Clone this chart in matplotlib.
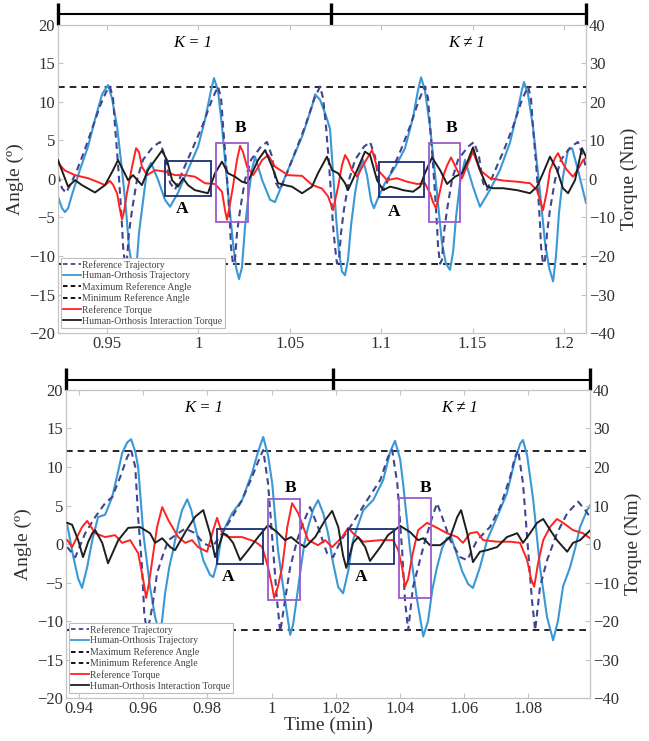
import matplotlib.pyplot as plt
from matplotlib.patches import Rectangle
from matplotlib.lines import Line2D

plt.rcParams['font.family'] = ['Liberation Serif', 'DejaVu Serif']
plt.rcParams['lines.solid_joinstyle'] = 'round'
plt.rcParams['lines.dash_joinstyle'] = 'round'

# ---------------- top panel data (time in min, angle in deg, torque in Nm) ----------------
top_ref_t = [0.9232, 0.9254, 0.9276, 0.9298, 0.9330, 0.9374, 0.9418, 0.9462, 0.9495, 0.9516,
             0.9533, 0.9544, 0.9560, 0.9571, 0.9582, 0.9588, 0.9598, 0.9609, 0.9620, 0.9637,
             0.9664, 0.9697, 0.9752, 0.9790, 0.9817, 0.9845, 0.9872, 0.9910, 0.9965, 1.0020,
             1.0074, 1.0107, 1.0124, 1.0135, 1.0151, 1.0162, 1.0173, 1.0178, 1.0189, 1.0200,
             1.0211, 1.0228, 1.0255, 1.0288, 1.0342, 1.0375, 1.0403, 1.0424, 1.0446, 1.0485,
             1.0534, 1.0583, 1.0632, 1.0665, 1.0682, 1.0698, 1.0714, 1.0725, 1.0736, 1.0747,
             1.0758, 1.0769, 1.0780, 1.0796, 1.0824, 1.0857, 1.0906, 1.0939, 1.0966, 1.0988,
             1.1015, 1.1053, 1.1108, 1.1157, 1.1207, 1.1239, 1.1256, 1.1267, 1.1283, 1.1294,
             1.1305, 1.1311, 1.1322, 1.1332, 1.1343, 1.1360, 1.1387, 1.1420, 1.1475, 1.1507,
             1.1535, 1.1557, 1.1579, 1.1617, 1.1672, 1.1721, 1.1770, 1.1803, 1.1819, 1.1830,
             1.1847, 1.1858, 1.1869, 1.1874, 1.1885, 1.1896, 1.1907, 1.1923, 1.1951, 1.1983,
             1.2038, 1.2076, 1.2104, 1.2120]
top_ref = [0.5, -1.2, -1.8, -0.8, 0.8, 3.5, 6.5, 9.5, 11.3, 12.0,
           10.5, 6.8, 2.0, -1.8, -6.0, -8.8, -11.0, -10.5, -7.0, -4.0,
           -0.1, 2.5, 4.2, 4.8, 2.9, -0.5, -1.4, 0.8, 3.8, 6.8,
           10.3, 12.0, 10.5, 6.8, 2.0, -1.8, -6.0, -8.8, -11.0, -10.5,
           -7.0, -4.0, -0.1, 2.5, 4.2, 4.8, 2.9, -0.5, -1.4, 0.8,
           3.8, 6.8, 10.3, 12.0, 10.5, 6.8, 2.0, -1.8, -6.0, -8.8,
           -11.0, -10.5, -7.0, -4.0, -0.1, 2.5, 4.2, 4.8, 2.9, -0.5,
           -1.4, 0.8, 3.8, 6.8, 10.3, 12.0, 10.5, 6.8, 2.0, -1.8,
           -6.0, -8.8, -11.0, -10.5, -7.0, -4.0, -0.1, 2.5, 4.2, 4.8,
           2.9, -0.5, -1.4, 0.8, 3.8, 6.8, 10.3, 12.0, 10.5, 6.8,
           2.0, -1.8, -6.0, -8.8, -11.0, -10.5, -7.0, -4.0, -0.1, 2.5,
           4.2, 4.8, 2.9, 1.5]

top_hum_t = [0.9232, 0.9254, 0.9270, 0.9287, 0.9309, 0.9352, 0.9396, 0.9434, 0.9473, 0.9505,
             0.9527, 0.9555, 0.9582, 0.9604, 0.9620, 0.9631, 0.9648, 0.9664, 0.9675, 0.9691,
             0.9719, 0.9741, 0.9779, 0.9817, 0.9845, 0.9888, 0.9943, 0.9998, 1.0036, 1.0069,
             1.0085, 1.0107, 1.0129, 1.0162, 1.0189, 1.0206, 1.0222, 1.0238, 1.0255, 1.0277,
             1.0293, 1.0310, 1.0348, 1.0392, 1.0419, 1.0490, 1.0567, 1.0621, 1.0638, 1.0665,
             1.0698, 1.0720, 1.0736, 1.0753, 1.0769, 1.0785, 1.0802, 1.0818, 1.0835, 1.0857,
             1.0878, 1.0900, 1.0922, 1.0944, 1.0960, 1.0982, 1.1021, 1.1075, 1.1130, 1.1174,
             1.1201, 1.1218, 1.1239, 1.1267, 1.1305, 1.1332, 1.1354, 1.1376, 1.1393, 1.1409,
             1.1431, 1.1458, 1.1502, 1.1540, 1.1595, 1.1650, 1.1704, 1.1743, 1.1770, 1.1781,
             1.1803, 1.1830, 1.1869, 1.1896, 1.1918, 1.1940, 1.1956, 1.1972, 1.1994, 1.2022,
             1.2044, 1.2076, 1.2120]
top_hum = [-2.3, -3.8, -4.3, -3.8, -2.0, 1.2, 4.2, 7.7, 11.0, 12.2,
           10.5, 6.8, 1.2, -4.0, -8.8, -10.5, -11.5, -10.5, -7.0, -4.0,
           1.2, 2.1, -0.1, -2.7, -3.6, -1.8, 1.2, 4.2, 7.7, 11.5,
           13.1, 11.5, 6.8, -1.8, -8.3, -11.5, -13.0, -11.5, -6.2, -1.5,
           1.2, 2.9, -0.1, -2.7, -3.0, 1.2, 5.5, 9.4, 11.0, 10.3,
           8.2, 6.5, 1.0, -5.0, -9.5, -12.0, -12.5, -10.5, -6.0, -1.8,
           1.0, 2.5, 0.5, -2.8, -3.8, -2.5, -0.5, 1.5, 4.0, 8.0,
           11.5, 13.2, 11.5, 6.8, -1.8, -8.3, -11.0, -11.8, -9.5, -5.0,
           -0.5, 2.5, -1.0, -3.6, -1.4, 1.2, 4.7, 8.6, 11.6, 12.6,
           11.0, 6.8, -1.8, -8.3, -11.5, -13.3, -10.0, -4.5, 0.3, 3.8,
           4.0, 1.2, -3.1]

top_rtq_t = [0.9232, 0.9270, 0.9325, 0.9396, 0.9451, 0.9489, 0.9516, 0.9533, 0.9555, 0.9571,
             0.9582, 0.9593, 0.9609, 0.9637, 0.9659, 0.9675, 0.9691, 0.9719, 0.9763, 0.9817,
             0.9872, 0.9927, 0.9981, 1.0036, 1.0091, 1.0129, 1.0145, 1.0156, 1.0167, 1.0189,
             1.0211, 1.0228, 1.0244, 1.0266, 1.0299, 1.0326, 1.0348, 1.0381, 1.0419, 1.0490,
             1.0567, 1.0621, 1.0676, 1.0709, 1.0736, 1.0764, 1.0785, 1.0802, 1.0818, 1.0840,
             1.0868, 1.0906, 1.0950, 1.0982, 1.1032, 1.1086, 1.1141, 1.1196, 1.1239, 1.1267,
             1.1283, 1.1300, 1.1322, 1.1338, 1.1360, 1.1382, 1.1415, 1.1442, 1.1475, 1.1502,
             1.1540, 1.1595, 1.1666, 1.1743, 1.1814, 1.1852, 1.1869, 1.1885, 1.1907, 1.1923,
             1.1951, 1.1967, 1.1994, 1.2016, 1.2049, 1.2076, 1.2104, 1.2120]
top_rtq = [4.1, 2.2, 1.0, 0.2, -0.8, -1.6, -0.5, -1.5, -3.7, -8.0,
           -10.5, -8.5, -3.7, 3.2, 8.0, 7.0, 3.2, 1.0, 2.3, 1.9,
           1.0, 1.0, 0.6, -1.1, -1.3, -3.3, -8.0, -10.6, -8.0, -2.0,
           5.0, 8.6, 7.0, 3.2, 1.0, 3.0, 4.9, 6.2, 3.2, 1.0,
           0.8, -1.5, -2.5, -4.5, -8.1, -2.0, 3.5, 6.2, 5.0, 2.3,
           0.6, 4.0, 7.5, 2.3, -0.3, 0.2, -0.7, -1.3, -1.1, -3.7,
           -6.0, -7.6, -3.0, 0.6, 3.5, 5.6, 2.3, 0.2, 4.0, 7.1,
           2.3, 0.2, -0.4, -0.7, -1.1, -2.9, -5.5, -8.1, -3.0, 2.3,
           5.5, 6.7, 4.0, 2.3, 0.6, 2.5, 4.9, 5.5]

top_itq_t = [0.9232, 0.9287, 0.9325, 0.9363, 0.9434, 0.9489, 0.9533, 0.9560, 0.9588, 0.9615,
             0.9642, 0.9691, 0.9724, 0.9763, 0.9801, 0.9828, 0.9856, 0.9888, 0.9916, 0.9943,
             0.9981, 1.0052, 1.0091, 1.0129, 1.0162, 1.0200, 1.0238, 1.0266, 1.0293, 1.0326,
             1.0365, 1.0403, 1.0436, 1.0474, 1.0512, 1.0567, 1.0621, 1.0654, 1.0703, 1.0731,
             1.0764, 1.0802, 1.0818, 1.0868, 1.0911, 1.0939, 1.0977, 1.1010, 1.1048, 1.1086,
             1.1119, 1.1174, 1.1212, 1.1239, 1.1278, 1.1322, 1.1360, 1.1404, 1.1442, 1.1475,
             1.1502, 1.1540, 1.1579, 1.1611, 1.1666, 1.1743, 1.1814, 1.1852, 1.1885, 1.1923,
             1.1962, 1.1994, 1.2022, 1.2060, 1.2098, 1.2120]
top_itq = [4.9, -2.0, -0.3, -1.6, -3.5, -1.6, 2.3, 4.9, 2.3, -0.3,
           1.0, -1.6, 2.3, 4.9, 7.4, 4.9, -0.3, -2.0, 0.2, -1.6,
           -2.9, -3.7, 1.5, 4.5, 1.5, 0.6, -0.7, -1.1, 1.5, 4.9,
           7.5, 3.2, -1.1, -1.6, -2.0, -3.7, -2.0, 1.5, 5.8, 2.3,
           1.5, -1.1, -2.9, 2.3, 7.1, 6.2, -0.3, -2.9, -2.0, -2.4,
           -2.9, -3.3, -2.0, 1.5, 5.6, 2.3, -1.3, 0.6, 1.5, 4.9,
           8.2, 2.3, -2.0, -2.4, -2.4, -2.9, -3.7, -2.0, 1.5, 5.8,
           2.3, -2.4, -3.7, -0.3, 8.0, 5.8]

top_xlim = (0.9232, 1.2120)
top_xticks = [0.95, 1.0, 1.05, 1.1, 1.15, 1.2]
top_split = 1.0725
top_max_ref = 12.0
top_min_ref = -11.0
# boxes: (t0, t1, angle0, angle1)
top_boxes_a = [(0.9817, 1.0069, -2.2, 2.3), (1.0988, 1.1234, -2.3, 2.2)]
top_boxes_b = [(1.0096, 1.0271, -5.6, 4.7), (1.1261, 1.1431, -5.6, 4.7)]
top_labels_a = [(0.9910, -3.9), (1.1070, -4.3)]
top_labels_b = [(1.0233, 6.6), (1.1382, 6.6)]
top_k_labels = [(0.9970, 'K = 1'), (1.1469, 'K \u2260 1')]

# ---------------- bottom panel data ----------------
bot_ref_t = [0.9363, 0.9388, 0.9419, 0.9450, 0.9481, 0.9503, 0.9528, 0.9550, 0.9562, 0.9575,
             0.9584, 0.9596, 0.9603, 0.9612, 0.9628, 0.9643, 0.9659, 0.9678, 0.9709, 0.9731,
             0.9762, 0.9787, 0.9815, 0.9846, 0.9877, 0.9908, 0.9939, 0.9964, 0.9974, 0.9989,
             1.0005, 1.0017, 1.0027, 1.0042, 1.0058, 1.0080, 1.0098, 1.0120, 1.0145, 1.0173,
             1.0192, 1.0214, 1.0245, 1.0298, 1.0339, 1.0363, 1.0376, 1.0392, 1.0407, 1.0416,
             1.0426, 1.0441, 1.0457, 1.0479, 1.0501, 1.0516, 1.0532, 1.0557, 1.0588, 1.0610,
             1.0641, 1.0681, 1.0713, 1.0744, 1.0759, 1.0769, 1.0784, 1.0800, 1.0812, 1.0822,
             1.0837, 1.0859, 1.0890, 1.0922, 1.0956, 1.0978, 1.0993]
bot_ref = [-0.4, -1.7, 1.4, 3.5, 5.3, 6.1, 8.7, 11.3, 12.2, 10.0,
           3.5, -3.0, -9.0, -11.6, -8.2, -3.8, -1.7, 0.5, 1.4, 2.0,
           1.4, 0.1, -0.4, 1.4, 3.5, 5.7, 8.7, 11.3, 12.2, 7.9,
           -0.8, -7.3, -11.4, -7.3, -3.0, 0.5, 2.7, 4.8, 2.2, -1.2,
           -1.7, 0.3, 2.2, 5.7, 8.3, 11.3, 12.2, 7.9, -0.8, -7.3,
           -11.2, -5.6, -3.0, 0.5, 3.5, 5.3, 3.5, 0.5, -1.7, -2.1,
           0.5, 2.2, 4.8, 8.7, 11.3, 12.2, 7.9, -0.8, -7.3, -11.2,
           -5.6, -2.1, 1.4, 4.0, 5.5, 4.4, 3.5]

bot_hum_t = [0.9363, 0.9381, 0.9397, 0.9409, 0.9425, 0.9441, 0.9459, 0.9481, 0.9503, 0.9522,
             0.9534, 0.9550, 0.9562, 0.9575, 0.9584, 0.9600, 0.9621, 0.9637, 0.9653, 0.9668,
             0.9681, 0.9693, 0.9709, 0.9721, 0.9737, 0.9749, 0.9762, 0.9787, 0.9808, 0.9818,
             0.9830, 0.9846, 0.9877, 0.9908, 0.9939, 0.9958, 0.9974, 0.9989, 1.0002, 1.0020,
             1.0042, 1.0058, 1.0067, 1.0077, 1.0089, 1.0102, 1.0114, 1.0130, 1.0145, 1.0161,
             1.0176, 1.0192, 1.0208, 1.0223, 1.0239, 1.0254, 1.0270, 1.0286, 1.0317, 1.0348,
             1.0370, 1.0385, 1.0401, 1.0410, 1.0432, 1.0454, 1.0473, 1.0488, 1.0501, 1.0516,
             1.0532, 1.0547, 1.0560, 1.0575, 1.0594, 1.0613, 1.0628, 1.0650, 1.0672, 1.0703,
             1.0734, 1.0759, 1.0775, 1.0784, 1.0797, 1.0816, 1.0837, 1.0859, 1.0878, 1.0893,
             1.0909, 1.0931, 1.0947, 1.0962, 1.0984, 1.0993]
bot_hum = [2.5, -1.5, -4.5, -5.7, -3.0, 0.5, 3.5, 3.8, 6.1, 9.5,
           11.8, 13.2, 13.6, 12.0, 10.0, 1.4, -5.6, -9.5, -12.0, -6.4,
           -3.0, -0.8, 2.5, 4.4, 5.8, 4.5, 2.2, -2.1, -4.0, -4.3,
           -2.5, 1.4, 4.0, 5.7, 9.2, 12.0, 13.9, 11.5, 7.9, -0.8,
           -7.3, -11.8, -10.5, -7.5, -3.8, 0.0, 2.2, 4.5, 5.7, 4.0,
           1.4, -2.5, -5.6, -6.4, -3.5, 0.5, 2.5, 4.4, 5.7, 8.3,
           12.0, 13.4, 11.0, 7.9, -0.8, -7.3, -12.0, -10.0, -6.0, -3.0,
           -0.5, 0.8, 0.9, -1.0, -3.5, -5.2, -5.7, -3.0, 0.5, 3.5,
           6.6, 10.9, 13.0, 13.5, 11.5, 5.7, -3.0, -9.5, -12.5, -10.0,
           -5.5, -3.0, -0.5, 2.2, 4.4, 5.0]

bot_rtq_t = [0.9363, 0.9378, 0.9409, 0.9425, 0.9450, 0.9481, 0.9512, 0.9534, 0.9559, 0.9584,
             0.9600, 0.9609, 0.9618, 0.9628, 0.9643, 0.9659, 0.9678, 0.9709, 0.9731, 0.9752,
             0.9771, 0.9799, 0.9818, 0.9830, 0.9846, 0.9865, 0.9908, 0.9949, 0.9971, 0.9989,
             1.0002, 1.0008, 1.0020, 1.0033, 1.0049, 1.0064, 1.0083, 1.0114, 1.0145, 1.0167,
             1.0189, 1.0220, 1.0239, 1.0254, 1.0286, 1.0339, 1.0379, 1.0395, 1.0407, 1.0416,
             1.0426, 1.0438, 1.0457, 1.0485, 1.0516, 1.0547, 1.0579, 1.0597, 1.0619, 1.0641,
             1.0660, 1.0703, 1.0744, 1.0775, 1.0797, 1.0809, 1.0819, 1.0831, 1.0847, 1.0869,
             1.0890, 1.0909, 1.0940, 1.0971, 1.0993]
bot_rtq = [1.0, -0.8, 4.4, 6.0, 2.8, 1.8, 2.3, 0.3, 1.0, -2.4,
           -9.4, -14.0, -10.0, -4.2, 4.4, 9.6, 6.2, 1.8, 0.3, 1.0,
           -0.8, -2.0, 3.6, 6.8, 2.8, 1.8, 1.8, 0.6, -0.8, -6.0,
           -11.1, -14.0, -11.0, -6.0, 4.4, 10.6, 8.0, 1.0, -0.3, 1.0,
           -0.8, 1.8, 4.2, 2.8, 0.6, 1.0, 1.0, -1.6, -6.0, -11.1,
           -9.0, -3.3, 3.6, 5.5, 4.2, 2.8, 1.8, 0.3, 2.8, 3.1,
           1.0, 0.6, 0.6, 0.3, -4.2, -9.0, -11.1, -5.0, 1.0, 4.5,
           6.5, 5.5, 3.6, 2.8, 1.5]

bot_itq_t = [0.9363, 0.9378, 0.9397, 0.9412, 0.9428, 0.9441, 0.9450, 0.9472, 0.9490, 0.9522,
             0.9553, 0.9590, 0.9621, 0.9637, 0.9659, 0.9684, 0.9699, 0.9731, 0.9762, 0.9787,
             0.9808, 0.9824, 0.9849, 0.9861, 0.9880, 0.9902, 0.9927, 0.9958, 0.9989, 1.0017,
             1.0042, 1.0061, 1.0083, 1.0105, 1.0136, 1.0167, 1.0189, 1.0208, 1.0223, 1.0233,
             1.0254, 1.0270, 1.0292, 1.0307, 1.0339, 1.0363, 1.0401, 1.0432, 1.0457, 1.0473,
             1.0494, 1.0526, 1.0557, 1.0579, 1.0591, 1.0610, 1.0628, 1.0650, 1.0672, 1.0703,
             1.0734, 1.0766, 1.0784, 1.0806, 1.0828, 1.0847, 1.0869, 1.0890, 1.0909, 1.0922,
             1.0940, 1.0962, 1.0993]
bot_itq = [5.5, 5.0, 1.0, -3.4, 0.5, 2.8, 3.6, 0.3, -5.0, 1.0,
           4.2, 4.4, 2.8, 0.3, 1.5, -0.8, -1.6, 3.1, 7.1, 8.8,
           2.8, -3.4, 2.8, 2.3, 0.3, -4.2, -1.6, 1.8, 4.9, 3.1,
           1.0, 1.8, 0.3, -0.8, 1.8, 6.2, 8.6, 4.4, -3.0, -6.2,
           0.3, 1.8, -0.8, -4.4, -0.8, 2.3, 4.7, 3.1, 1.0, 1.5,
           -0.3, -0.3, 1.8, 7.0, 8.8, 2.8, -4.7, -2.0, -1.6, -0.8,
           1.8, 2.8, 0.3, 2.8, 5.5, 6.5, 3.6, 1.0, -0.8, -2.0,
           0.3, 1.0, 3.5]

bot_xlim = (0.9359, 1.0993)
bot_xticks = [0.94, 0.96, 0.98, 1.0, 1.02, 1.04, 1.06, 1.08]
bot_split = 1.0192
bot_max_ref = 12.1
bot_min_ref = -11.2
bot_boxes_a = [(0.9830, 0.9974, -2.6, 1.95), (1.0239, 1.0382, -2.6, 1.95)]
bot_boxes_b = [(0.9989, 1.0089, -7.3, 5.8), (1.0398, 1.0498, -7.0, 6.0)]
bot_labels_a = [(0.9865, -4.3), (1.0279, -4.3)]
bot_labels_b = [(1.0058, 7.3), (1.0479, 7.3)]
bot_k_labels = [(0.9787, 'K = 1'), (1.0588, 'K \u2260 1')]

legend_labels = ['Reference Trajectory', 'Human-Orthosis Trajectory',
                 'Maximum Reference Angle', 'Minimum Reference Angle',
                 'Reference Torque', 'Human-Orthosis Interaction Torque']

C_REF = '#3f4590'
C_HUM = '#3a98d4'
C_RTQ = '#ff2222'
C_ITQ = '#1e1e1e'
C_A = '#1b2e6e'
C_B = '#9a5ccb'
C_SPINE = '#c4c4c4'
C_TXT = '#303030'


def fmt(v):
    return '%g' % v


def panel(fig, rect, ref_t, ref, hum_t, hum, rtq_t, rtq, itq_t, itq, xlim, xticks,
          split, max_ref, min_ref, boxes_a, boxes_b, labels_a, labels_b, k_labels,
          xlabel=None):
    ax = fig.add_axes(rect)
    ax2 = ax.twinx()

    ax.plot(hum_t, hum, color=C_HUM, lw=1.5, zorder=3)
    ax.plot(ref_t, ref, color=C_REF, lw=1.5, dashes=(3.2, 2.2), zorder=4)
    ax.axhline(max_ref, color='black', lw=1.2, dashes=(4, 3), zorder=2)
    ax.axhline(min_ref, color='black', lw=1.2, dashes=(4, 3), zorder=2)

    ax2.plot(rtq_t, rtq, color=C_RTQ, lw=1.4, zorder=3)
    ax2.plot(itq_t, itq, color=C_ITQ, lw=1.4, zorder=4)

    for t0, t1, a0, a1 in boxes_a:
        ax2.add_patch(Rectangle((t0, 2 * a0), t1 - t0, 2 * (a1 - a0), fill=False,
                                ec=C_A, lw=1.3, zorder=5))
    for t0, t1, a0, a1 in boxes_b:
        ax2.add_patch(Rectangle((t0, 2 * a0), t1 - t0, 2 * (a1 - a0), fill=False,
                                ec=C_B, lw=1.3, zorder=5))
    for t, a in labels_a:
        ax2.text(t, 2 * a, 'A', ha='center', va='center', fontsize=12.5,
                 fontweight='bold', zorder=6)
    for t, a in labels_b:
        ax2.text(t, 2 * a, 'B', ha='center', va='center', fontsize=12.5,
                 fontweight='bold', zorder=6)
    for t, s in k_labels:
        ax2.text(t, 0.94, s, transform=ax2.get_xaxis_transform(), ha='center',
                 va='center', fontsize=12, style='italic', zorder=6)

    ax.set_xlim(*xlim)
    ax.set_ylim(-20, 20)
    ax2.set_ylim(-40, 40)
    ax.set_xticks(xticks)
    ax.set_xticklabels([fmt(v) for v in xticks])
    ax.set_yticks(range(-20, 21, 5))
    ax2.set_yticks(range(-40, 41, 10))
    ax.set_ylabel('Angle (\u00ba)', fontsize=14, color=C_TXT, labelpad=4)
    ax2.set_ylabel('Torque (Nm)', fontsize=14, color=C_TXT, labelpad=4)
    if xlabel:
        ax.set_xlabel(xlabel, fontsize=14, color=C_TXT, labelpad=0)

    for a in (ax, ax2):
        for sp in a.spines.values():
            sp.set_color(C_SPINE)
        a.tick_params(direction='in', length=3.5, color=C_SPINE, labelcolor=C_TXT,
                      labelsize=12, pad=2)
    ax.tick_params(top=True)

    # segment bar above the axes
    tr = ax.get_xaxis_transform()
    ax.plot([xlim[0], xlim[1]], [1.034, 1.034], transform=tr, clip_on=False,
            color='black', lw=1.5)
    for x in (xlim[0], split, xlim[1]):
        ax.plot([x, x], [1.0, 1.072], transform=tr, clip_on=False,
                color='black', lw=2.4, solid_capstyle='butt')

    handles = [Line2D([], [], color=C_REF, lw=1.3, dashes=(2.5, 1.8)),
               Line2D([], [], color=C_HUM, lw=1.3),
               Line2D([], [], color='black', lw=1.3, dashes=(2.5, 1.8)),
               Line2D([], [], color='black', lw=1.3, dashes=(2.5, 1.8)),
               Line2D([], [], color=C_RTQ, lw=1.3),
               Line2D([], [], color=C_ITQ, lw=1.3)]
    leg = ax2.legend(handles, legend_labels, loc='lower left',
                     bbox_to_anchor=(0.002, 0.01), fontsize=7, frameon=True,
                     fancybox=False, framealpha=1, edgecolor='#bdbdbd',
                     handlelength=1.8, handletextpad=0.15, labelspacing=0.18,
                     borderpad=0.25, borderaxespad=0.2)
    leg.get_frame().set_linewidth(0.8)
    for txt in leg.get_texts():
        txt.set_color('#444444')
    leg.set_zorder(10)
    return ax, ax2


fig = plt.figure(figsize=(6.49, 7.41), dpi=100)

panel(fig, [0.0894, 0.5506, 0.8135, 0.4157],
      top_ref_t, top_ref, top_hum_t, top_hum, top_rtq_t, top_rtq, top_itq_t, top_itq,
      top_xlim, top_xticks, top_split, top_max_ref, top_min_ref,
      top_boxes_a, top_boxes_b, top_labels_a, top_labels_b, top_k_labels)

panel(fig, [0.1017, 0.058, 0.8074, 0.4157],
      bot_ref_t, bot_ref, bot_hum_t, bot_hum, bot_rtq_t, bot_rtq, bot_itq_t, bot_itq,
      bot_xlim, bot_xticks, bot_split, bot_max_ref, bot_min_ref,
      bot_boxes_a, bot_boxes_b, bot_labels_a, bot_labels_b, bot_k_labels,
      xlabel='Time (min)')

fig.savefig('out.png', dpi=100)
